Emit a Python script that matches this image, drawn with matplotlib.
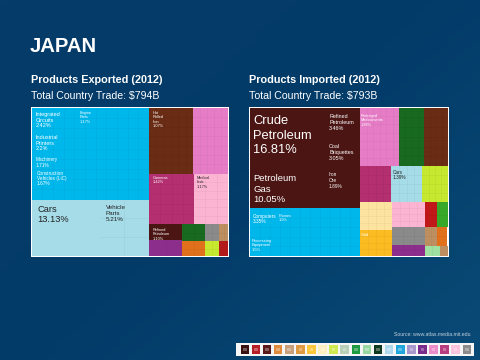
import numpy as np
import matplotlib
matplotlib.use("Agg")
import matplotlib.pyplot as plt
from matplotlib.patches import Rectangle

plt.rcParams['font.family'] = ['Liberation Sans', 'DejaVu Sans']

# share of trade per tile (%)
exp_values = [37.0, 13.13, 9.57, 10.0, 8.0, 7.75, 5.85, 1.85, 1.78, 1.35, 1.18, 0.8, 0.55, 0.7, 0.48]
exp_colors = ['#00b7ec', '#a6dbe8', '#a6dbe8', '#6a2c14', '#e67cc6', '#b32f70', '#fbb4d2', '#4a1512',
              '#8c2f8c', '#186a20', '#e0701c', '#8a8a8a', '#bd8f60', '#c6e82e', '#b31a1a']
exp_cols = [11, 1, 2, 6, 5, 4, 3, 1, 2, 2, 2, 2, 2, 2, 1]
exp_rows = [9, 1, 3, 7, 7, 5, 6, 1, 1, 2, 2, 2, 2, 2, 1]
# nested index lists: every level switches split direction
exp_tree = [[0, [1, 2]], [[3, 4], [5, 6], [[7, 8], [9, 10], [[11, 12], [13, 14]]]]]

imp_values = [16.81, 10.05, 3.6, 3.1, 4.4, 18.1, 7.75, 4.97, 4.67, 3.8, 3.8, 3.1, 3.05, 2.85,
              2.8, 2.0, 1.25, 1.0, 0.92, 0.8, 0.65, 0.5, 0.27]
imp_colors = ['#4a1512', '#4a1512', '#4a1512', '#4a1512', '#4a1512', '#00b7ec', '#e67cc6', '#186a20',
              '#6a2c14', '#b32f70', '#a6dbe8', '#c6e82e', '#fde3a0', '#fbbc22', '#fbb4d2', '#8a8a8a',
              '#8c2f8c', '#c01818', '#38a828', '#bd8f60', '#e0701c', '#a0e0a0', '#bd8f60']
imp_cols = [1, 1, 1, 1, 1, 11, 6, 4, 4, 4, 4, 4, 4, 4, 4, 3, 3, 1, 1, 2, 1, 2, 1]
imp_rows = [1, 1, 1, 1, 1, 5, 7, 6, 6, 4, 4, 4, 4, 4, 4, 2, 2, 2, 2, 2, 2, 1, 1]
imp_tree = [[[[0, 1], [2, 3, 4]], 5],
            [[6, 7, 8], [9, 10, 11], [[12, 13], [14, 15, 16], [[17, 18], [19, 20], [21, 22]]]]]

legend_colors = ['#3a1010', '#b81c24', '#5a1a18', '#e08a3c', '#c8a07c', '#e09a40', '#fbc83c', '#fdf0c0',
                 '#cdea50', '#b8d0b8', '#1e9a40', '#98d8a0', '#103a20', '#b0d8ec', '#20a8dc', '#a898cc',
                 '#7a2c8c', '#ec8cc8', '#b83c80', '#fbc4dc', '#8c8c8c']

# text, x, y, size, colour, line spacing
exp_labels = [('Integrated\nCircuits\n2.42%', 36, 112, 4.0, 'white', 1.15),
              ('Industrial\nPrinters\n2.2%', 36, 135, 4.0, 'white', 1.15),
              ('Machinery\n1.71%', 36, 157, 3.4, 'white', 1.15),
              ('Construction\nVehicles (LiC)\n1.67%', 37, 171, 3.4, 'white', 1.0),
              ('Engine\nParts\n1.17%', 80, 111, 2.8, 'white', 1.1),
              ('Cars\n13.13%', 37, 205, 6.7, '#222222', 1.2),
              ('Vehicle\nParts\n5.21%', 106, 205, 4.5, '#222222', 1.25),
              ('Hot\nRolled\nIron\n1.07%', 153, 111, 2.8, 'white', 1.1),
              ('Cameras\n1.42%', 153, 176, 2.8, 'white', 1.1),
              ('Medical\nInstr.\n1.17%', 197, 176, 2.8, '#222222', 1.1),
              ('Refined\nPetroleum\n1.10%', 153, 228, 2.8, 'white', 1.1)]
imp_labels = [('Crude\nPetroleum\n16.81%', 253, 115.5, 9.3, 'white', 1.25),
              ('Petroleum\nGas\n10.05%', 253, 174, 6.8, 'white', 1.25),
              ('Refined\nPetroleum\n3.46%', 329, 114, 3.9, 'white', 1.2),
              ('Coal\nBriquettes\n3.05%', 329, 144, 3.9, 'white', 1.2),
              ('Iron\nOre\n1.89%', 329, 172, 3.4, 'white', 1.2),
              ('Packaged\nMedicaments\n1.98%', 361, 114, 2.8, 'white', 1.1),
              ('Cars\n1.39%', 393, 170, 3.4, '#222222', 1.1),
              ('Computers\n3.35%', 253, 214, 3.4, 'white', 1.1),
              ('Phones\n1.9%', 279, 214, 2.8, 'white', 1.1),
              ('Processing\nEquipment\n1.5%', 252, 239, 3.0, 'white', 1.1),
              ('Gold', 361, 233, 2.8, 'white', 1.1)]

NAVY = '#033b69'


def layout(node, values, x, y, w, h, horizontal, out):
    # slice-and-dice: node is a tile index or a list of sub nodes
    if isinstance(node, int):
        out[node] = (x, y, w, h)
        return
    sums = [total(n, values) for n in node]
    pos = 0.0
    for n, s in zip(node, sums):
        frac = s / sum(sums)
        if horizontal:
            layout(n, values, x + pos * w, y, frac * w, h, False, out)
        else:
            layout(n, values, x, y + pos * h, w, frac * h, True, out)
        pos += frac


def total(node, values):
    if isinstance(node, int):
        return values[node]
    return sum(total(n, values) for n in node)


def treemap(ax, tree, values, colors, cols, rows, x, y, w, h):
    ax.add_patch(Rectangle((x - 1, y - 1), w + 2, h + 2, fc='white', ec='none', zorder=2))
    rects = {}
    layout(tree, values, x, y, w, h, True, rects)
    for i, (rx, ry, rw, rh) in rects.items():
        ax.add_patch(Rectangle((rx, ry), rw, rh, fc=colors[i], ec='none', zorder=3))
        # faint grid for the small products inside each block
        for k in range(1, cols[i]):
            ax.plot([rx + rw * k / cols[i]] * 2, [ry, ry + rh], color='black', alpha=0.045, lw=0.5, zorder=4)
        for k in range(1, rows[i]):
            ax.plot([rx, rx + rw], [ry + rh * k / rows[i]] * 2, color='black', alpha=0.045, lw=0.5, zorder=4)


fig = plt.figure(figsize=(4.8, 3.6), dpi=100)
ax = fig.add_axes([0, 0, 1, 1])
ax.axis('off')

# slide background, a little lighter towards the bottom right
gx, gy = np.meshgrid(np.linspace(0, 1, 60), np.linspace(0, 1, 60))
ax.imshow(0.55 * gx + 0.45 * gy, extent=(0, 480, 360, 0), aspect='auto', zorder=0,
          cmap=matplotlib.colors.LinearSegmentedColormap.from_list('bg', ['#063c68', NAVY, '#0a4a76']))
ax.set_xlim(0, 480)
ax.set_ylim(360, 0)

ax.text(30, 46, 'JAPAN', color='white', fontsize=14.6, fontweight='bold', va='center')
ax.text(31, 80, 'Products Exported (2012)', color='white', fontsize=7.8, fontweight='bold', va='center')
ax.text(31, 96, 'Total Country Trade: $794B', color='white', fontsize=7.55, va='center')
ax.text(249, 80, 'Products Imported (2012)', color='white', fontsize=7.8, fontweight='bold', va='center')
ax.text(249, 96, 'Total Country Trade: $793B', color='white', fontsize=7.55, va='center')

treemap(ax, exp_tree, exp_values, exp_colors, exp_cols, exp_rows, 31.7, 107.7, 196.5, 148.3)
treemap(ax, imp_tree, imp_values, imp_colors, imp_cols, imp_rows, 249.5, 107.7, 198, 148.3)

for txt, tx, ty, size, col, spacing in exp_labels + imp_labels:
    ax.text(tx, ty, txt, color=col, fontsize=size, va='top', ha='left', linespacing=spacing, zorder=5)

ax.text(470, 334, 'Source: www.atlas.media.mit.edu', color='#c4d2de', fontsize=3.7, ha='right', va='center')

# product colour strip
ax.add_patch(Rectangle((236, 343), 237.5, 13, fc='#f6f6f6', ec='none', zorder=2))
for i, c in enumerate(legend_colors):
    ax.add_patch(Rectangle((240.5 + i * 11.1, 344.5), 8.6, 9, fc=c, ec='none', zorder=3))
    ax.add_patch(Rectangle((243 + i * 11.1, 347.5), 3.5, 3, fc='white', alpha=0.3, ec='none', zorder=4))

fig.savefig('out.png', dpi=100)
